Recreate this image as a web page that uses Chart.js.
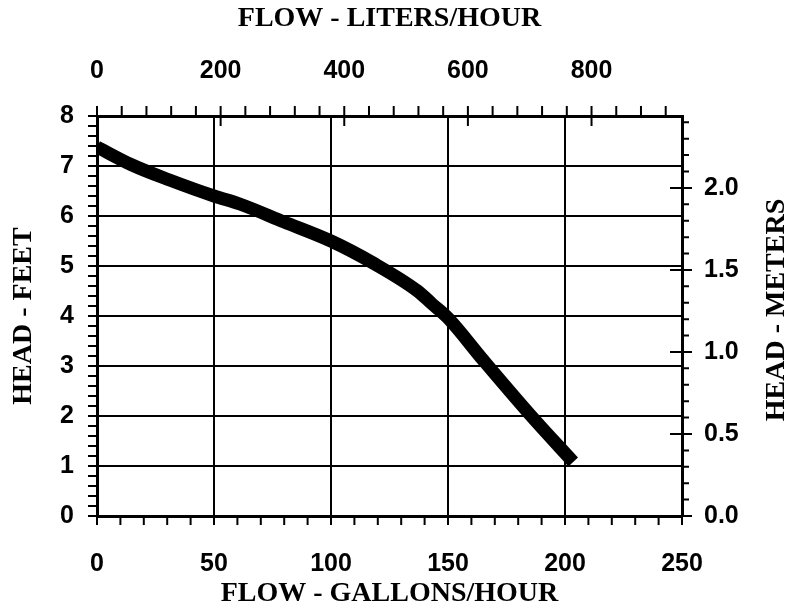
<!DOCTYPE html>
<html><head><meta charset="utf-8">
<script src="https://cdn.jsdelivr.net/npm/chart.js@4/dist/chart.umd.min.js"></script>
<style>html,body{margin:0;padding:0;background:#fff}#wrap{width:798px;height:608px}</style>
</head><body><div id="wrap"><canvas id="c" width="798" height="608"></canvas></div>
<script>
const flowGph = [0, 15, 31, 50, 61, 80, 100, 118, 137, 143, 150, 165, 185, 203.5];
const headFt  = [7.38, 7.02, 6.72, 6.40, 6.24, 5.88, 5.50, 5.06, 4.50, 4.25, 3.96, 3.12, 2.03, 1.08];
const gphTicks = [0, 50, 100, 150, 200, 250];
const lphTicks = [0, 200, 400, 600, 800];
const ftTicks  = [0, 1, 2, 3, 4, 5, 6, 7, 8];
const mTicks   = [0, 0.5, 1.0, 1.5, 2.0];
const L_PER_GAL = 3.78541, M_PER_FT = 0.3048;

const tickFont = {family: '"Liberation Sans", Arial, sans-serif', weight: 'bold', size: 25};
const titleFont = {family: '"Liberation Serif", "Times New Roman", serif', weight: 'bold', size: 28, lineHeight: 1};
const setTicks = arr => s => { s.ticks = arr.map(v => ({value: v})); };

const minorPlugin = {
  id: 'minor',
  afterDraw(chart) {
    const ctx = chart.ctx, a = chart.chartArea, S = chart.scales;
    ctx.save();
    ctx.strokeStyle = '#000'; ctx.lineWidth = 2;
    ctx.beginPath();
    for (let i = 0; i <= 25; i++) { const px = S.x.getPixelForValue(i * 10); ctx.moveTo(px, a.bottom); ctx.lineTo(px, a.bottom + 9); }
    for (let i = 0; i <= 40; i++) { const py = S.y.getPixelForValue(i * 0.2); ctx.moveTo(a.left - 9, py); ctx.lineTo(a.left, py); }
    for (let i = 0; i * 40 <= S.x2.max; i++) { const px = S.x2.getPixelForValue(i * 40); const major = i % 5 === 0; ctx.moveTo(px, a.top - 10); ctx.lineTo(px, major ? a.top + 10 : a.top); }
    for (let i = 0; i * 0.1 <= S.y2.max + 1e-9; i++) { const py = S.y2.getPixelForValue(i * 0.1); const major = i % 5 === 0; ctx.moveTo(major ? a.right - 12 : a.right, py); ctx.lineTo(a.right + (major ? 10 : 7), py); }
    ctx.stroke();
    ctx.translate(777, 310);
    ctx.rotate(-Math.PI / 2);
    ctx.fillStyle = '#000';
    ctx.font = 'bold 28px "Liberation Serif", "Times New Roman", serif';
    ctx.textAlign = 'center'; ctx.textBaseline = 'middle';
    ctx.fillText('HEAD - METERS', 0, 0);
    ctx.restore();
  }
};

new Chart(document.getElementById('c'), {
  type: 'line',
  data: {
    datasets: [{
      data: flowGph.map((g, i) => ({x: g, y: headFt[i]})),
      borderColor: '#000', borderWidth: 13, pointRadius: 0,
      cubicInterpolationMode: 'monotone',
      borderCapStyle: 'butt', borderJoinStyle: 'round', fill: false, clip: 0,
      xAxisID: 'x', yAxisID: 'y'
    }]
  },
  options: {
    responsive: false, animation: false,
    layout: {padding: 0},
    plugins: {legend: {display: false}, tooltip: {enabled: false}},
    scales: {
      x: {
        type: 'linear', position: 'bottom', min: 0, max: 250,
        afterBuildTicks: setTicks(gphTicks),
        afterFit: s => { s.height = 92; },
        grid: {color: '#000', lineWidth: 2, drawTicks: false},
        border: {display: true, color: '#000', width: 3},
        ticks: {font: tickFont, color: '#000', padding: 33, maxRotation: 0, autoSkip: false},
        title: {display: true, text: 'FLOW - GALLONS/HOUR', font: titleFont, color: '#000', padding: {top: 0, bottom: 0}}
      },
      x2: {
        type: 'linear', position: 'top', min: 0, max: 250 * L_PER_GAL,
        afterBuildTicks: setTicks(lphTicks),
        afterFit: s => { s.height = 116; },
        grid: {drawOnChartArea: false, drawTicks: false, color: '#000'},
        border: {display: true, color: '#000', width: 3},
        ticks: {font: tickFont, color: '#000', padding: 30, maxRotation: 0, autoSkip: false},
        title: {display: true, text: 'FLOW - LITERS/HOUR', font: titleFont, color: '#000', padding: {top: 5, bottom: 0}}
      },
      y: {
        type: 'linear', position: 'left', min: 0, max: 8,
        afterBuildTicks: setTicks(ftTicks),
        afterFit: s => { s.width = 97; },
        grid: {color: '#000', lineWidth: 2, drawTicks: false},
        border: {display: true, color: '#000', width: 3},
        ticks: {font: tickFont, color: '#000', padding: 23, autoSkip: false},
        title: {display: true, text: 'HEAD - FEET', font: titleFont, color: '#000', padding: {top: 10, bottom: 0}}
      },
      y2: {
        type: 'linear', position: 'right', min: 0, max: 8 * M_PER_FT,
        afterBuildTicks: setTicks(mTicks),
        afterFit: s => { s.width = 116; },
        grid: {drawOnChartArea: false, drawTicks: false, color: '#000'},
        border: {display: true, color: '#000', width: 3},
        ticks: {font: tickFont, color: '#000', padding: 22, autoSkip: false, callback: v => Number(v).toFixed(1)}
      }
    }
  },
  plugins: [minorPlugin]
});
</script>
</body></html>
